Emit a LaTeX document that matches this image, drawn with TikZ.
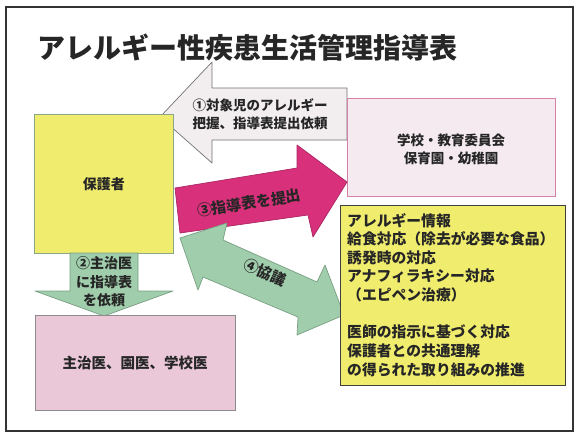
\documentclass[tikz,border=0pt]{standalone}
\usepackage{fontspec}
\newfontfamily\jp{Noto Sans CJK JP}
\definecolor{yel}{RGB}{240,236,110}
\definecolor{yeledge}{RGB}{140,165,135}
\definecolor{pinkA}{RGB}{244,234,240}
\definecolor{pinkAedge}{RGB}{214,128,168}
\definecolor{pinkB}{RGB}{234,200,216}
\definecolor{mag}{RGB}{216,48,122}
\definecolor{magedge}{RGB}{170,40,100}
\definecolor{grn}{RGB}{160,205,172}
\definecolor{grnedge}{RGB}{120,160,130}
\definecolor{wht}{RGB}{242,238,240}
\tikzset{
  txt/.style={font=\jp\bfseries, text=black!85, inner sep=0pt},
  boxbase/.style={line width=0.8pt},
  arrowshape/.style={line width=0.7pt, line join=round}
}
\begin{document}
\begin{tikzpicture}[x=1pt,y=-1pt]
\useasboundingbox (0,0) rectangle (580,436);
\fill[white] (0,0) rectangle (580,436);
% frame
\draw[line width=1.6pt, black!80] (6,7) rectangle (573,431);
% title
\node[txt, font=\jp\bfseries\fontsize{28}{30}\selectfont, anchor=base west] (title) at (37,58) {アレルギー性疾患生活管理指導表};
% arrow 1 (left)
\draw[arrowshape, fill=wht, draw=black!55] (347,88) -- (212,88) -- (212,62) -- (160,117) -- (212,163) -- (212,140) -- (347,140) -- cycle;
\node[txt, font=\jp\bfseries\fontsize{13.5}{18}\selectfont, align=center] (a1) at (260,114) {①対象児のアレルギー\\把握、指導表提出依頼};
% boxes
\node[boxbase, draw=yeledge, fill=yel, minimum width=139pt, minimum height=139pt, anchor=north west] (hogo) at (34,114) {};
\node[txt, font=\jp\bfseries\fontsize{14}{16}\selectfont] (hogot) at (hogo.center) {保護者};
\node[boxbase, draw=pinkAedge, fill=pinkA, minimum width=208pt, minimum height=98pt, anchor=north west] (school) at (347,98) {};
\node[txt, font=\jp\bfseries\fontsize{13.5}{18}\selectfont, align=center] (schoolt) at (451,149) {学校・教育委員会\\保育園・幼稚園};
% arrow 2 (down)
\draw[arrowshape, fill=grn, draw=grnedge] (70,253) -- (138,253) -- (138,291) -- (173,291) -- (104,316) -- (35,291) -- (70,291) -- cycle;
\node[txt, font=\jp\bfseries\fontsize{14}{18.5}\selectfont, align=center] (a2) at (104,282) {②主治医\\に指導表\\を依頼};
\node[boxbase, draw=black!45, fill=pinkB, minimum width=200pt, minimum height=95pt, anchor=north west] (doc) at (35,315) {};
\node[txt, font=\jp\bfseries\fontsize{14.5}{16}\selectfont] (doct) at (135,363) {主治医、園医、学校医};
% arrow 3 (magenta)
\draw[arrowshape, fill=mag, draw=magedge] (175,188) -- (297,168) -- (297,145) -- (347,182) -- (313,237) -- (308,215) -- (180,233) -- cycle;
\node[txt, font=\jp\bfseries\fontsize{15}{16}\selectfont, rotate=9] (a3) at (249,203) {③指導表を提出};
% arrow 4 (green double)
\draw[arrowshape, fill=grn, draw=grnedge] (180,238) -- (227,223) -- (223,240) -- (317,282) -- (325,265) -- (344,315) -- (297,335) -- (298,317) -- (203,277) -- (198,290) -- cycle;
\node[txt, font=\jp\bfseries\fontsize{15}{16}\selectfont, rotate=-24] (a4) at (265,272) {④協議};
% info box
\node[boxbase, draw=black!75, fill=yel, minimum width=225pt, minimum height=180pt, anchor=north west] (info) at (340,205) {};
\node[txt, font=\jp\bfseries\fontsize{14.8}{18.6}\selectfont, align=left, anchor=north west] (infot) at (347,213) {アレルギー情報\\給食対応（除去が必要な食品）\\誘発時の対応\\アナフィラキシー対応\\（エピペン治療）\\[18.6pt]医師の指示に基づく対応\\保護者との共通理解\\の得られた取り組みの推進};
\end{tikzpicture}
\end{document}
